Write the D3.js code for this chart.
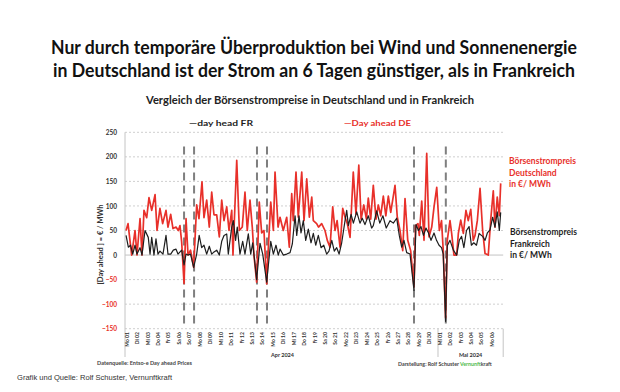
<!DOCTYPE html>
<html><head><meta charset="utf-8">
<script src="https://cdn.jsdelivr.net/npm/d3@7"></script>
<style>body{margin:0;background:#fff;} svg{display:block;}</style>
</head><body>
<svg id="c" width="620" height="392"></svg>
<script>
// ---------- data ----------
const titleLines = ["Nur durch temporäre Überproduktion bei Wind und Sonnenenergie",
                    "in Deutschland ist der Strom an 6 Tagen günstiger, als in Frankreich"];
const subtitle = "Vergleich der Börsenstrompreise in Deutschland und in Frankreich";
const legendLabels = ["—day head FR", "—Day ahead DE"];
const yTicks = [-150, -100, -50, 0, 50, 100, 150, 200, 250];
const dayLabels = ["Mo 01","Di 02","Mi 03","Do 04","Fr 05","Sa 06","So 07","Mo 08","Di 09","Mi 10",
  "Do 11","Fr 12","Sa 13","So 14","Mo 15","Di 16","Mi 17","Do 18","Fr 19","Sa 20","So 21","Mo 22",
  "Di 23","Mi 24","Do 25","Fr 26","Sa 27","So 28","Mo 29","Di 30","Mi 01","Do 02","Fr 03","Sa 04",
  "So 05","Mo 06"];
const monthLabels = ["Apr 2024", "Mai 2024"];
const monthStartDay = [0, 30, 36.25];
// days (offset from 1 Apr 2024 00:00) with German negative/cheap days marked
const markedDays = [5.66, 6.62, 12.65, 13.61, 27.70, 30.75];
// [day offset, €/MWh]
const deSeries = [[0.10,50],[0.29,64],[0.64,0],[0.96,50],[1.15,0],[1.44,74],[1.63,0],[1.82,91],[2.08,76],[2.30,117],[2.56,91],[2.88,123],[3.07,50],[3.35,95],[3.61,64],[3.93,91],[4.12,57],[4.38,83],[4.60,54],[4.89,57],[5.11,50],[5.27,60],[5.43,27],[5.66,-58],[5.85,74],[6.04,0],[6.28,10],[6.58,-25],[6.87,102],[7.09,74],[7.38,149],[7.57,76],[7.83,112],[8.08,57],[8.31,128],[8.53,82],[8.79,82],[9.04,37],[9.27,112],[9.49,70],[9.75,98],[9.97,50],[10.23,91],[10.35,0],[10.71,193],[10.96,50],[11.24,57],[11.50,128],[11.72,50],[11.98,112],[12.20,57],[12.36,0],[12.62,-55],[12.87,108],[13.10,45],[13.32,50],[13.58,-59],[13.75,20],[13.97,108],[14.22,50],[14.38,169],[14.67,57],[14.86,77],[15.17,50],[15.50,77],[15.75,16],[15.98,125],[16.13,70],[16.39,169],[16.61,77],[16.94,169],[17.16,70],[17.42,155],[17.67,77],[17.90,118],[18.05,70],[18.37,64],[18.55,57],[18.85,64],[19.17,50],[19.39,30],[19.65,16],[19.91,98],[20.13,50],[20.33,70],[20.61,16],[20.87,95],[21.09,77],[21.31,64],[21.57,36],[21.88,169],[22.14,83],[22.41,183],[22.63,73],[22.89,102],[23.14,73],[23.32,116],[23.55,73],[23.80,142],[24.06,73],[24.28,102],[24.51,80],[24.76,120],[25.00,80],[25.24,120],[25.47,87],[25.88,142],[26.10,77],[26.36,50],[26.62,9],[26.84,115],[27.10,30],[27.38,9],[27.70,-65],[27.85,60],[28.08,64],[28.21,40],[28.44,110],[28.66,30],[28.92,207],[29.14,37],[29.40,57],[29.62,98],[29.88,138],[30.13,50],[30.34,70],[30.50,10],[30.73,-128],[30.89,30],[31.15,70],[31.31,44],[31.53,0],[31.79,0],[31.95,44],[32.18,71],[32.43,44],[32.68,91],[32.90,70],[33.14,93],[33.38,30],[33.55,40],[33.77,70],[34.03,136],[34.28,50],[34.51,3],[34.82,0],[35.05,71],[35.30,131],[35.46,57],[35.68,118],[35.88,80],[36.01,146]];
const frSeries = [[0.10,40],[0.32,16],[0.53,20],[0.74,2],[0.96,20],[1.15,2],[1.44,15],[1.63,0],[1.92,50],[2.23,36],[2.40,2],[2.56,36],[2.78,0],[2.97,33],[3.16,2],[3.35,8],[3.64,2],[3.93,40],[4.12,2],[4.38,2],[4.63,10],[4.89,12],[5.08,2],[5.43,10],[5.66,-20],[5.85,2],[6.04,0],[6.28,2],[6.58,-25],[6.87,2],[7.11,40],[7.35,15],[7.57,20],[7.83,2],[8.08,18],[8.31,2],[8.46,5],[8.79,10],[9.04,0],[9.27,28],[9.49,40],[9.75,43],[9.90,2],[10.23,57],[10.38,70],[10.60,30],[10.76,57],[11.02,2],[11.28,28],[11.50,2],[11.82,43],[12.05,2],[12.24,25],[12.62,-50],[12.94,24],[13.20,2],[13.58,-55],[13.97,28],[14.22,2],[14.47,20],[14.69,0],[14.86,12],[15.17,0],[15.50,2],[15.82,5],[16.04,23],[16.30,80],[16.46,40],[16.68,80],[16.87,45],[17.09,70],[17.32,30],[17.57,53],[17.83,25],[18.05,44],[18.28,20],[18.53,40],[18.79,15],[19.05,20],[19.33,2],[19.55,8],[19.82,30],[20.06,8],[20.29,15],[20.52,2],[20.77,25],[21.09,70],[21.25,91],[21.41,60],[21.67,83],[21.89,65],[22.21,88],[22.52,65],[22.74,75],[23.00,62],[23.32,80],[23.64,55],[23.80,60],[24.12,90],[24.42,65],[24.72,80],[25.04,55],[25.40,70],[25.72,65],[26.04,75],[26.29,40],[26.52,16],[26.74,30],[27.00,5],[27.32,2],[27.70,-72],[27.89,62],[28.13,50],[28.37,58],[28.61,40],[28.85,55],[29.09,45],[29.33,30],[29.62,45],[29.86,30],[30.10,20],[30.34,15],[30.50,2],[30.73,-135],[30.89,19],[31.15,30],[31.47,10],[31.79,0],[32.04,30],[32.26,38],[32.48,15],[32.73,50],[32.98,58],[33.20,20],[33.43,25],[33.69,20],[33.94,44],[34.28,38],[34.51,30],[34.73,45],[34.98,51],[35.24,77],[35.46,57],[35.68,88],[35.88,50],[36.01,87]];
const deNote = ["Börsenstrompreis", "Deutschland", "in €/ MWh"];
const frNote = ["Börsenstrompreis", "Frankreich", "in €/ MWh"];

// ---------- drawing ----------
const RED = "#e8302a", DARK = "#1e1e1e";
const svg = d3.select("#c");
svg.append("rect").attr("width", 620).attr("height", 392).attr("fill", "#fff");

const PL = 125, PR = 503.2, PT = 132.3, PB = 328.7;
const x = d3.scaleLinear().domain([0, 36.25]).range([PL, PR]);
const y = d3.scaleLinear().domain([-150, 250]).range([PB, PT]);

// titles
svg.selectAll("text.title").data(titleLines).join("text")
  .attr("x", 314).attr("y", (d, i) => 54 + i * 23)
  .attr("text-anchor", "middle")
  .attr("textLength", (d, i) => i === 0 ? 526 : 522).attr("lengthAdjust", "spacingAndGlyphs")
  .style("font-family", "Lato, 'Open Sans', sans-serif").style("font-weight", 700)
  .style("font-size", "19px").attr("fill", "#111").text(d => d);

svg.append("text").attr("x", 310).attr("y", 104).attr("text-anchor", "middle")
  .attr("textLength", 328).attr("lengthAdjust", "spacingAndGlyphs")
  .style("font-family", "Lato, sans-serif").style("font-weight", 700).style("font-size", "10.5px")
  .attr("fill", "#222").text(subtitle);

// legend
svg.append("text").attr("x", 189).attr("y", 126).attr("textLength", 64).attr("lengthAdjust", "spacingAndGlyphs")
  .style("font-family", "Lato, sans-serif").style("font-weight", 700).style("font-size", "8px")
  .attr("fill", DARK).text(legendLabels[0]);
svg.append("text").attr("x", 344).attr("y", 126).attr("textLength", 67).attr("lengthAdjust", "spacingAndGlyphs")
  .style("font-family", "Lato, sans-serif").style("font-weight", 700).style("font-size", "8px")
  .attr("fill", RED).text(legendLabels[1]);

// gridlines
const g = svg.append("g");
g.selectAll("line.grid").data(yTicks).join("line")
  .attr("x1", PL).attr("x2", PR).attr("y1", d => y(d)).attr("y2", d => y(d))
  .attr("stroke", d => d === 0 ? "#c4c4c4" : "#cfcfcf").attr("stroke-width", 1)
  .attr("stroke-dasharray", d => d === 0 ? null : "2,2");

// y axis line + category separators
g.append("line").attr("x1", PL).attr("x2", PL).attr("y1", PT).attr("y2", 357).attr("stroke", "#c4c4c4");
g.selectAll("line.sep").data(monthStartDay.slice(1)).join("line")
  .attr("x1", d => x(d)).attr("x2", d => x(d)).attr("y1", PB).attr("y2", 357).attr("stroke", "#c4c4c4");

// y axis labels
const yAxis = svg.append("g").attr("transform", `translate(${PL},0)`)
  .call(d3.axisLeft(y).tickValues(yTicks).tickSize(0).tickPadding(8));
yAxis.select(".domain").remove();
yAxis.selectAll("text").style("font-family", "Lato, sans-serif").style("font-weight", 700)
  .style("font-size", "6.5px").attr("fill", d => d < 0 ? RED : "#333");

// x axis labels
const xAxis = svg.append("g").attr("transform", `translate(1.5,${PB})`)
  .call(d3.axisBottom(x).tickValues(d3.range(dayLabels.length)).tickSize(0).tickFormat(i => dayLabels[i]));
xAxis.select(".domain").remove();
xAxis.selectAll("text").attr("transform", "rotate(-90)").attr("text-anchor", "end")
  .attr("x", -3.5).attr("y", 0).attr("dy", "0.35em")
  .style("font-family", "Lato, sans-serif").style("font-weight", 700).style("font-size", "5px").attr("fill", "#333");

// month labels
svg.selectAll("text.month").data(monthLabels).join("text")
  .attr("x", (d, i) => (x(monthStartDay[i]) + x(monthStartDay[i + 1])) / 2 + (i === 0 ? 1 : 0))
  .attr("y", 357).attr("text-anchor", "middle")
  .style("font-family", "Lato, sans-serif").style("font-weight", 700).style("font-size", "5.5px")
  .attr("fill", "#333").text(d => d);

// y axis title
svg.append("text").attr("transform", "translate(103,244.5) rotate(-90)").attr("text-anchor", "middle")
  .style("font-family", "Lato, sans-serif").style("font-weight", 700).style("font-size", "7.5px")
  .attr("fill", "#333").text("[Day ahead ] = € / MWh");

// dashed markers
svg.selectAll("line.mark").data(markedDays).join("line")
  .attr("x1", d => x(d)).attr("x2", d => x(d)).attr("y1", y(221)).attr("y2", y(-140))
  .attr("stroke", "#7f7f7f").attr("stroke-width", 2).attr("stroke-dasharray", "8,5");

// series lines
const line = d3.line().x(d => x(d[0])).y(d => y(d[1]));
svg.append("path").datum(deSeries).attr("d", line).attr("fill", "none")
  .attr("stroke", RED).attr("stroke-width", 1.7).attr("stroke-linejoin", "round");
svg.append("path").datum(frSeries).attr("d", line).attr("fill", "none")
  .attr("stroke", DARK).attr("stroke-width", 1.2).attr("stroke-linejoin", "round");

// right notes
svg.selectAll("text.de").data(deNote).join("text")
  .attr("x", 509).attr("y", (d, i) => 164 + i * 11.5)
  .style("font-family", "Lato, sans-serif").style("font-weight", 700).style("font-size", "8.5px")
  .attr("fill", RED).text(d => d);
svg.selectAll("text.fr").data(frNote).join("text")
  .attr("x", 510).attr("y", (d, i) => 235 + i * 11.5)
  .style("font-family", "Lato, sans-serif").style("font-weight", 700).style("font-size", "8.5px")
  .attr("fill", DARK).text(d => d);

// footers
svg.append("text").attr("x", 97).attr("y", 365).attr("textLength", 95).attr("lengthAdjust", "spacingAndGlyphs")
  .style("font-family", "Lato, sans-serif").style("font-weight", 700).style("font-size", "5.3px")
  .attr("fill", "#444").text("Datenquelle: Entso-e Day ahead Prices");
const dar = svg.append("text").attr("x", 398).attr("y", 366)
  .style("font-family", "Lato, sans-serif").style("font-weight", 700).style("font-size", "5.3px");
dar.append("tspan").attr("fill", "#444").text("Darstellung: Rolf Schuster  ");
dar.append("tspan").attr("fill", "#4cbb4c").text("Vernunft");
dar.append("tspan").attr("fill", "#444").text("kraft");
svg.append("text").attr("x", 17).attr("y", 380).attr("textLength", 155).attr("lengthAdjust", "spacingAndGlyphs")
  .style("font-family", "'Liberation Sans', Arial, sans-serif").style("font-size", "7px")
  .attr("fill", "#333").text("Grafik und Quelle: Rolf Schuster, Vernunftkraft");
</script>
</body></html>
